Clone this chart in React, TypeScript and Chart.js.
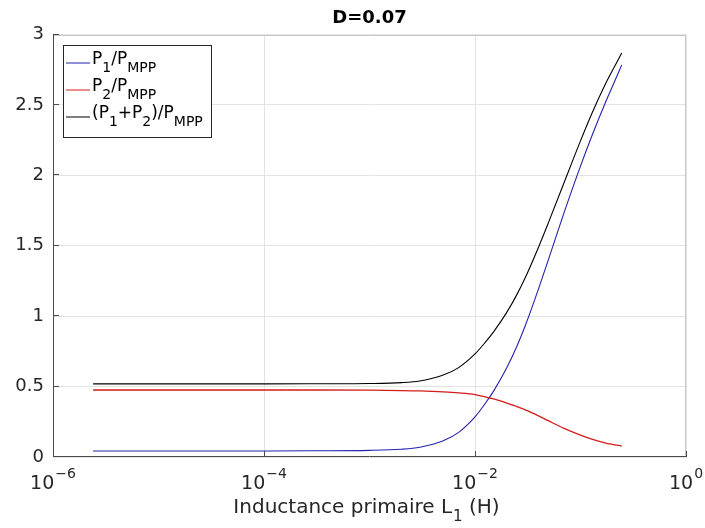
import React, { useEffect, useRef } from "react";
import { Chart, registerables } from "chart.js";

Chart.register(...registerables);

// Inductance primaire L1 (H)
const inductance = [
  2.4e-6, 1e-5, 1e-4, 3e-4, 1e-3, 2e-3, 3e-3, 5e-3, 7e-3, 1e-2, 0.0125, 0.015,
  0.02, 0.025, 0.03, 0.04, 0.05, 0.07, 0.1, 0.13, 0.17, 0.2, 0.246,
];
// P1 / PMPP
const p1Ratio = [
  0.043, 0.043, 0.043, 0.044, 0.047, 0.055, 0.069, 0.115, 0.175, 0.285, 0.38,
  0.468, 0.633, 0.788, 0.934, 1.194, 1.409, 1.737, 2.066, 2.292, 2.507, 2.629,
  2.785,
];
// P2 / PMPP
const p2Ratio = [
  0.476, 0.476, 0.476, 0.476, 0.475, 0.472, 0.469, 0.462, 0.455, 0.443, 0.427,
  0.412, 0.383, 0.358, 0.335, 0.292, 0.256, 0.203, 0.155, 0.125, 0.101, 0.09,
  0.078,
];
// (P1 + P2) / PMPP
const totalRatio = [
  0.519, 0.519, 0.519, 0.52, 0.522, 0.528, 0.54, 0.582, 0.635, 0.732, 0.814,
  0.889, 1.027, 1.155, 1.275, 1.49, 1.67, 1.95, 2.245, 2.45, 2.64, 2.743, 2.869,
];

const xTickValues = [1e-6, 1e-4, 1e-2, 1];
const xTickExponents = ["\u22126", "\u22124", "\u22122", "0"];
const yTickValues = [0, 0.5, 1, 1.5, 2, 2.5, 3];
const yTickLabels = ["0", "0.5", "1", "1.5", "2", "2.5", "3"];

const titleText = "D=0.07";
const xAxisTitleMain = "Inductance primaire L";
const xAxisTitleSub = "1";
const xAxisTitleEnd = " (H)";

type Piece = { t: string; sub?: boolean };
const seriesColors = ["#2222ae", "#d41c1c", "#000000"];
const legendRows: Piece[][] = [
  [{ t: "P" }, { t: "1", sub: true }, { t: "/P" }, { t: "MPP", sub: true }],
  [{ t: "P" }, { t: "2", sub: true }, { t: "/P" }, { t: "MPP", sub: true }],
  [{ t: "(P" }, { t: "1", sub: true }, { t: "+P" }, { t: "2", sub: true }, { t: ")/P" }, { t: "MPP", sub: true }],
];

const FONT = "'DejaVu Sans', sans-serif";

const framePlugin = {
  id: "matlabFrame",
  afterDraw(chart: any) {
    const { ctx, chartArea, scales } = chart;
    const { left, right, top, bottom } = chartArea;
    ctx.save();
    ctx.lineWidth = 1;
    // top / right box
    ctx.strokeStyle = "#c8c8c8";
    ctx.beginPath();
    ctx.moveTo(left, Math.round(top) + 0.5);
    ctx.lineTo(right, Math.round(top) + 0.5);
    ctx.moveTo(Math.round(right) - 0.5, top);
    ctx.lineTo(Math.round(right) - 0.5, bottom);
    ctx.stroke();
    // left / bottom axes
    ctx.strokeStyle = "#4a4a4a";
    ctx.beginPath();
    ctx.moveTo(Math.round(left) + 0.5, top);
    ctx.lineTo(Math.round(left) + 0.5, bottom);
    ctx.moveTo(left, Math.round(bottom) - 0.5);
    ctx.lineTo(right, Math.round(bottom) - 0.5);
    ctx.stroke();
    // inward ticks
    ctx.beginPath();
    for (const v of xTickValues) {
      const px = Math.round(scales.x.getPixelForValue(v)) + 0.5;
      ctx.moveTo(px, bottom);
      ctx.lineTo(px, bottom - 6);
    }
    for (const v of yTickValues) {
      const py = Math.round(scales.y.getPixelForValue(v)) - 0.5;
      ctx.moveTo(left, py);
      ctx.lineTo(left + 6, py);
    }
    ctx.stroke();

    // x tick labels: 10 with superscript exponent
    ctx.fillStyle = "#262626";
    ctx.textBaseline = "alphabetic";
    ctx.textAlign = "left";
    xTickValues.forEach((v, i) => {
      const px = scales.x.getPixelForValue(v);
      ctx.font = `19px ${FONT}`;
      const wBase = ctx.measureText("10").width;
      ctx.font = `14px ${FONT}`;
      const wExp = ctx.measureText(xTickExponents[i]).width;
      const x0 = px - (wBase + wExp + 1) / 2;
      ctx.font = `19px ${FONT}`;
      ctx.fillText("10", x0, 489);
      ctx.font = `14px ${FONT}`;
      ctx.fillText(xTickExponents[i], x0 + wBase + 1, 478);
    });

    // x axis title with subscript
    {
      ctx.font = `20px ${FONT}`;
      const w1 = ctx.measureText(xAxisTitleMain).width;
      const w3 = ctx.measureText(xAxisTitleEnd).width;
      ctx.font = `15px ${FONT}`;
      const w2 = ctx.measureText(xAxisTitleSub).width;
      const cx = (left + right) / 2 - 3;
      let x = cx - (w1 + w2 + w3 + 1) / 2;
      ctx.font = `20px ${FONT}`;
      ctx.fillText(xAxisTitleMain, x, 513);
      x += w1;
      ctx.font = `15px ${FONT}`;
      ctx.fillText(xAxisTitleSub, x + 1, 521);
      x += w2 + 1;
      ctx.font = `20px ${FONT}`;
      ctx.fillText(xAxisTitleEnd, x, 513);
    }

    // legend
    const bx = 63, by = 45, bw = 148, bh = 92;
    ctx.fillStyle = "#ffffff";
    ctx.fillRect(bx, by, bw, bh);
    ctx.strokeStyle = "#262626";
    ctx.strokeRect(bx + 0.5, by + 0.5, bw, bh);
    const rowY = [63, 90, 117];
    legendRows.forEach((row, i) => {
      const y = rowY[i];
      ctx.strokeStyle = seriesColors[i];
      ctx.lineWidth = 1;
      ctx.beginPath();
      ctx.moveTo(66, y);
      ctx.lineTo(90, y);
      ctx.stroke();
      let x = 92;
      ctx.fillStyle = "#000000";
      for (const p of row) {
        ctx.font = p.sub ? `14px ${FONT}` : `17px ${FONT}`;
        ctx.fillText(p.t, x, p.sub ? y + 9 : y + 0.5);
        x += ctx.measureText(p.t).width;
      }
    });
    ctx.restore();
  },
};

export default function App() {
  const canvasRef = useRef<HTMLCanvasElement | null>(null);

  useEffect(() => {
    document.body.style.margin = "0";
    const canvas = canvasRef.current;
    if (!canvas) return;
    const mk = (vals: number[]) => inductance.map((x, i) => ({ x, y: vals[i] }));
    const chart = new Chart(canvas, {
      type: "line",
      data: {
        datasets: [
          {
            label: "P1/PMPP",
            data: mk(p1Ratio),
            borderColor: seriesColors[0],
            borderWidth: 1.1,
            pointRadius: 0,
            cubicInterpolationMode: "monotone",
            fill: false,
            order: 3,
          },
          {
            label: "P2/PMPP",
            data: mk(p2Ratio),
            borderColor: seriesColors[1],
            borderWidth: 1.3,
            pointRadius: 0,
            cubicInterpolationMode: "monotone",
            fill: false,
            order: 2,
          },
          {
            label: "(P1+P2)/PMPP",
            data: mk(totalRatio),
            borderColor: seriesColors[2],
            borderWidth: 1.1,
            pointRadius: 0,
            cubicInterpolationMode: "monotone",
            fill: false,
            order: 1,
          },
        ],
      },
      options: {
        responsive: false,
        animation: false,
        devicePixelRatio: 1,
        layout: { padding: { left: 0, right: 19, top: 0, bottom: 0 } },
        plugins: {
          legend: { display: false },
          tooltip: { enabled: false },
          title: {
            display: true,
            fullSize: false,
            text: titleText,
            color: "#000000",
            font: { family: FONT, size: 18, weight: "bold", lineHeight: 1.2 },
            padding: { top: 8, bottom: 5 },
          },
        },
        scales: {
          x: {
            type: "logarithmic",
            min: 1e-6,
            max: 1,
            afterBuildTicks: (scale: any) => {
              scale.ticks = xTickValues.map((v) => ({ value: v }));
            },
            afterFit: (scale: any) => {
              scale.height = 71;
            },
            ticks: { display: false, autoSkip: false },
            grid: { color: "#e3e3e3", lineWidth: 1, drawTicks: false },
            border: { display: false },
          },
          y: {
            type: "linear",
            min: 0,
            max: 3,
            afterBuildTicks: (scale: any) => {
              scale.ticks = yTickValues.map((v) => ({ value: v }));
            },
            afterFit: (scale: any) => {
              scale.width = 53;
            },
            ticks: {
              padding: 9,
              color: "#262626",
              font: { family: FONT, size: 18 },
              callback: (value: any, index: number) => yTickLabels[index] ?? String(value),
            },
            grid: { color: "#e3e3e3", lineWidth: 1, drawTicks: false },
            border: { display: false },
          },
        },
      },
      plugins: [framePlugin],
    } as any);
    return () => chart.destroy();
  }, []);

  return (
    <div style={{ width: 705, height: 528, background: "#ffffff" }}>
      <canvas ref={canvasRef} width={705} height={528} />
    </div>
  );
}
